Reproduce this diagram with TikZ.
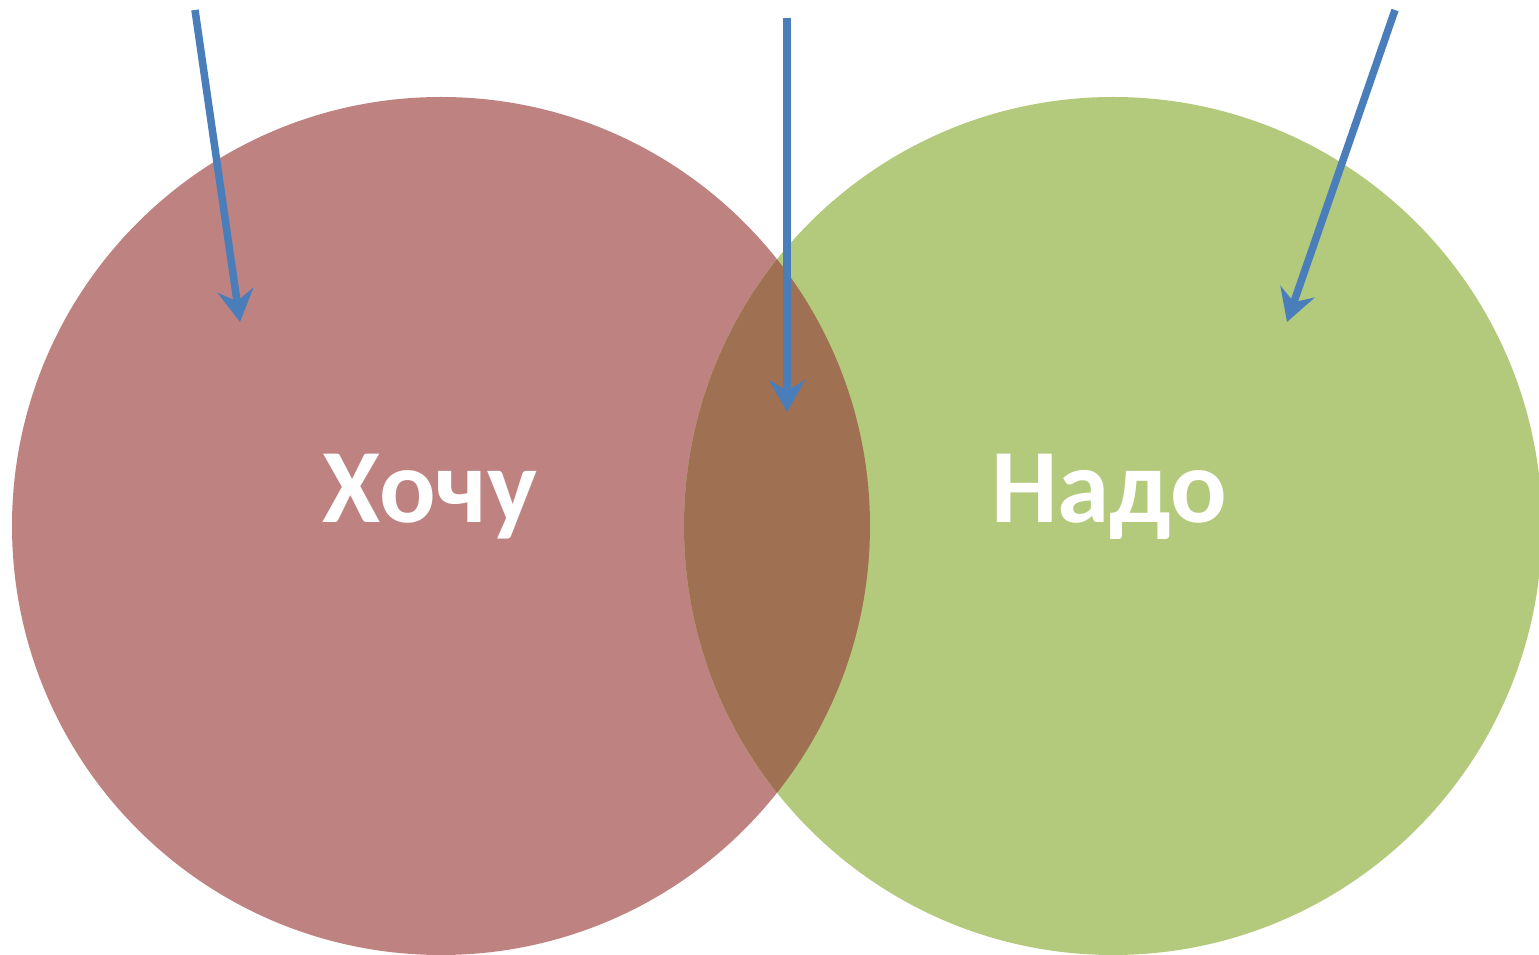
\documentclass[tikz,border=0pt]{standalone}
\usepackage{fontspec}
\setmainfont{Carlito}
\usetikzlibrary{arrows.meta}
\definecolor{wantred}{RGB}{190,131,129}
\definecolor{needgreen}{RGB}{179,202,125}
\definecolor{bothbrown}{RGB}{160,112,82}
\definecolor{arrowblue}{RGB}{74,126,187}

\begin{document}
\begin{tikzpicture}[x=0.1mm,y=-0.1mm]
	\useasboundingbox (0,0) rectangle (1539,955);
	% circle centres
	\coordinate (cw) at (441,526);                 % wish
	\coordinate (cn) at (1113,526);                % need
	% circles
	\fill[wantred] (cw) circle (429);
	\fill[needgreen] (cn) circle (429);
	% overlap
	\begin{scope}
		\clip (cw) circle (429);
		\fill[bothbrown] (cn) circle (429);
	\end{scope}
	% labels
	\node[text=white,font=\bfseries\fontsize{30}{36}\selectfont,anchor=base] (want) at (430,523) {Хочу};
	\node[text=white,font=\bfseries\fontsize{30}{36}\selectfont,anchor=base] (need) at (1109,523) {Надо};
	% arrows from above
	\coordinate (a1) at (195,10);   \coordinate (b1) at (240,322);
	\coordinate (a2) at (787,18);   \coordinate (b2) at (787,412);
	\coordinate (a3) at (1395,10);  \coordinate (b3) at (1287,322);
	\foreach \s/\t in {a1/b1,a2/b2,a3/b3}{
		\draw[arrowblue,line width=0.75mm,-{Stealth[length=3.2mm,width=3.6mm,inset=1.1mm]}] (\s) -- (\t);
	}
\end{tikzpicture}
\end{document}
